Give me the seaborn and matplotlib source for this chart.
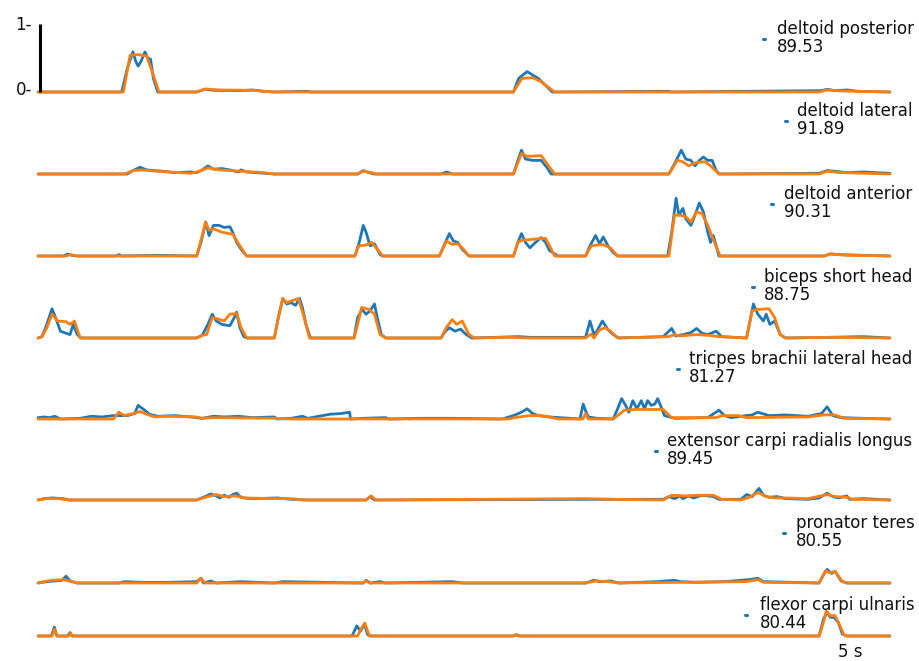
import matplotlib
matplotlib.use("Agg")
import matplotlib.pyplot as plt
from matplotlib.lines import Line2D
import pandas as pd
import seaborn as sns

sns.set_theme(style="white")
plt.rcParams["font.family"] = ["DejaVu Sans"]

BLUE = "#1f77b4"
ORANGE = "#ff7f0e"

muscles = [
    "deltoid posterior",
    "deltoid lateral",
    "deltoid anterior",
    "biceps short head",
    "tricpes brachii lateral head",
    "extensor carpi radialis longus",
    "pronator teres",
    "flexor carpi ulnaris",
]
scores = ["89.53", "91.89", "90.31", "88.75", "81.27", "89.45", "80.55", "80.44"]

# (time in s, normalised activation) vertices: recorded EMG envelope
deltoid_posterior_emg = [
    (0, 0), (2.09, 0), (2.23, 0.35), (2.37, 0.59), (2.44, 0.45), (2.50, 0.38), (2.57, 0.45),
    (2.67, 0.59), (2.74, 0.5), (2.81, 0.48), (2.88, 0.2), (2.99, 0.0), (3.96, 0.0), (4.17, 0.04),
    (4.38, 0.025), (5.07, 0.02), (5.35, 0.03), (5.63, 0.01), (5.9, 0.0), (6.74, 0.01), (6.8, 0.0),
    (11.87, 0.0), (12.0, 0.2), (12.21, 0.3), (12.35, 0.25), (12.49, 0.2), (12.7, 0.08), (12.84, 0.0),
    (15.75, 0.01), (15.8, 0.0), (19.56, 0.02), (19.7, 0.04), (19.9, 0.02), (20.2, 0.03),
    (20.47, 0.01), (21.27, 0.0),
]
deltoid_posterior_pred = [
    (0, 0), (2.13, 0), (2.30, 0.54), (2.50, 0.55), (2.71, 0.53), (2.85, 0.3), (3.02, 0.0),
    (3.96, 0.0), (4.17, 0.045), (4.52, 0.03), (5.35, 0.025), (5.9, 0.0), (11.87, 0.0),
    (12.08, 0.2), (12.35, 0.21), (12.56, 0.15), (12.9, 0.0), (19.5, 0.0), (19.7, 0.03),
    (20.05, 0.015), (21.27, 0.0),
]

deltoid_lateral_emg = [
    (0, 0), (2.23, 0), (2.37, 0.05), (2.55, 0.1), (2.71, 0.06), (3.13, 0.04), (3.41, 0.02),
    (3.82, 0.03), (3.96, 0.02), (4.1, 0.06), (4.24, 0.12), (4.38, 0.07), (4.59, 0.08), (4.79, 0.06),
    (5.0, 0.03), (5.07, 0.06), (5.21, 0.03), (5.9, 0.0), (7.98, 0.0), (8.12, 0.05), (8.26, 0.02),
    (8.4, 0.0), (10.06, 0.0), (10.2, 0.03), (10.34, 0.0), (11.87, 0.0), (11.98, 0.2), (12.07, 0.35),
    (12.17, 0.22), (12.35, 0.2), (12.56, 0.2), (12.7, 0.1), (12.81, 0.0), (15.75, 0.0),
    (15.89, 0.15), (16.06, 0.35), (16.17, 0.22), (16.3, 0.2), (16.4, 0.12), (16.51, 0.2),
    (16.61, 0.25), (16.72, 0.2), (16.83, 0.2), (16.93, 0.05), (17.0, 0.0), (19.5, 0.01),
    (19.7, 0.05), (19.9, 0.04), (20.2, 0.02), (20.6, 0.03), (21.27, 0.01),
]
deltoid_lateral_pred = [
    (0, 0), (2.16, 0), (2.37, 0.05), (2.57, 0.06), (2.99, 0.04), (3.82, 0.01), (4.03, 0.04),
    (4.24, 0.09), (4.52, 0.06), (5.07, 0.04), (5.63, 0.02), (5.9, 0.0), (7.98, 0.0), (8.12, 0.04),
    (8.33, 0.02), (8.47, 0.0), (11.87, 0.0), (12.07, 0.3), (12.21, 0.26), (12.56, 0.27),
    (12.77, 0.1), (12.9, 0.0), (15.75, 0.0), (15.96, 0.2), (16.1, 0.18), (16.24, 0.12),
    (16.44, 0.17), (16.65, 0.18), (16.79, 0.12), (17.0, 0.0), (19.5, 0.0), (19.7, 0.04),
    (20.05, 0.02), (21.27, 0.0),
]

deltoid_anterior_emg = [
    (0, 0), (0.63, 0), (0.74, 0.03), (0.84, 0.01), (0.98, 0), (1.95, 0), (2.02, 0.02), (2.09, 0),
    (2.99, 0.01), (3.96, 0), (4.07, 0.2), (4.19, 0.5), (4.27, 0.3), (4.38, 0.45), (4.52, 0.45),
    (4.65, 0.42), (4.79, 0.43), (4.86, 0.35), (4.96, 0.2), (5.07, 0.1), (5.21, 0.0), (7.91, 0),
    (8.02, 0.2), (8.12, 0.45), (8.19, 0.35), (8.29, 0.15), (8.4, 0.18), (8.54, 0.02), (8.61, 0),
    (10.02, 0), (10.17, 0.2), (10.27, 0.33), (10.37, 0.22), (10.48, 0.2), (10.59, 0.1),
    (10.76, 0.0), (11.87, 0), (11.98, 0.2), (12.07, 0.33), (12.17, 0.2), (12.28, 0.12),
    (12.42, 0.2), (12.56, 0.27), (12.67, 0.2), (12.77, 0.08), (12.9, 0.03), (12.98, 0.0),
    (13.67, 0), (13.78, 0.15), (13.92, 0.3), (14.02, 0.18), (14.11, 0.28), (14.23, 0.15),
    (14.36, 0.05), (14.47, 0), (15.72, 0), (15.82, 0.35), (15.93, 0.85), (16.0, 0.6), (16.1, 0.7),
    (16.17, 0.55), (16.3, 0.45), (16.37, 0.55), (16.51, 0.78), (16.61, 0.65), (16.72, 0.35),
    (16.79, 0.2), (16.86, 0.3), (17.0, 0.0), (19.63, 0), (19.77, 0.03), (20.05, 0.02),
    (20.6, 0.01), (21.27, 0),
]
deltoid_anterior_pred = [
    (0, 0), (0.7, 0), (0.8, 0.02), (0.98, 0), (3.96, 0), (4.1, 0.3), (4.18, 0.5), (4.27, 0.38),
    (4.38, 0.4), (4.59, 0.35), (4.86, 0.32), (5.04, 0.15), (5.21, 0.0), (7.91, 0), (8.01, 0.15),
    (8.19, 0.16), (8.33, 0.2), (8.47, 0.1), (8.61, 0), (10.02, 0), (10.2, 0.22), (10.34, 0.17),
    (10.48, 0.18), (10.62, 0.1), (10.76, 0), (11.87, 0), (11.98, 0.2), (12.07, 0.23),
    (12.42, 0.25), (12.67, 0.26), (12.77, 0.15), (12.9, 0), (13.67, 0), (13.81, 0.15),
    (14.09, 0.17), (14.29, 0.12), (14.47, 0), (15.75, 0), (15.89, 0.6), (16.03, 0.6),
    (16.17, 0.58), (16.3, 0.5), (16.44, 0.65), (16.58, 0.62), (16.72, 0.45), (16.89, 0.2),
    (17.03, 0), (19.63, 0), (19.77, 0.03), (20.19, 0.01), (21.27, 0),
]

biceps_emg = [
    (0.0, 0.0), (0.1, 0.02), (0.22, 0.2), (0.35, 0.43), (0.47, 0.25), (0.56, 0.1), (0.7, 0.07),
    (0.8, 0.05), (0.88, 0.2), (0.98, 0.05), (1.08, 0.0), (3.96, 0), (4.1, 0.04), (4.24, 0.2),
    (4.35, 0.35), (4.45, 0.25), (4.59, 0.2), (4.79, 0.18), (4.9, 0.3), (4.96, 0.38), (5.04, 0.15),
    (5.14, 0.02), (5.21, 0), (5.9, 0), (6.0, 0.3), (6.11, 0.58), (6.21, 0.5), (6.32, 0.52),
    (6.43, 0.48), (6.53, 0.58), (6.6, 0.45), (6.69, 0.2), (6.8, 0.0), (7.89, 0), (7.98, 0.3),
    (8.09, 0.42), (8.19, 0.35), (8.29, 0.4), (8.4, 0.5), (8.47, 0.3), (8.57, 0.05), (8.68, 0),
    (10.06, 0), (10.17, 0.1), (10.27, 0.15), (10.41, 0.1), (10.55, 0.13), (10.69, 0.05),
    (10.83, 0), (12.0, 0.02), (12.28, 0.01), (13.67, 0.01), (13.78, 0.25), (13.88, 0.05),
    (13.95, 0.1), (14.09, 0.25), (14.23, 0.12), (14.36, 0.05), (14.5, 0), (15.61, 0.02),
    (15.82, 0.14), (15.92, 0.03), (16.1, 0.05), (16.3, 0.08), (16.44, 0.14), (16.58, 0.07),
    (16.72, 0.05), (16.93, 0.1), (17.07, 0.02), (17.69, 0), (17.79, 0.3), (17.86, 0.5),
    (17.97, 0.35), (18.11, 0.25), (18.18, 0.35), (18.27, 0.2), (18.39, 0.25), (18.53, 0.05),
    (18.66, 0.0), (19.77, 0.01), (20.6, 0.02), (21.27, 0),
]
biceps_pred = [
    (0.0, 0.0), (0.1, 0.02), (0.22, 0.15), (0.35, 0.35), (0.49, 0.25), (0.7, 0.24), (0.8, 0.2),
    (0.91, 0.25), (1.05, 0.0), (3.96, 0), (4.1, 0.04), (4.21, 0.05), (4.35, 0.3), (4.49, 0.28),
    (4.65, 0.25), (4.79, 0.35), (4.96, 0.36), (5.07, 0.15), (5.21, 0.0), (5.9, 0), (6.0, 0.3),
    (6.11, 0.58), (6.21, 0.52), (6.35, 0.55), (6.5, 0.58), (6.62, 0.35), (6.78, 0.0), (7.89, 0),
    (7.98, 0.2), (8.08, 0.45), (8.26, 0.42), (8.4, 0.35), (8.54, 0.05), (8.68, 0), (10.06, 0),
    (10.2, 0.16), (10.34, 0.27), (10.45, 0.2), (10.59, 0.25), (10.76, 0.05), (10.9, 0.0),
    (11.73, 0.01), (12.28, 0.0), (13.67, 0), (13.81, 0.06), (13.88, 0.0), (14.02, 0.12),
    (14.16, 0.15), (14.29, 0.1), (14.47, 0), (15.75, 0.02), (15.89, 0.05), (16.03, 0.03),
    (16.44, 0.05), (16.72, 0.04), (17.0, 0.02), (17.69, 0), (17.83, 0.4), (17.97, 0.42),
    (18.25, 0.43), (18.39, 0.3), (18.53, 0.05), (18.66, 0.0), (19.77, 0.01), (21.27, 0),
]

triceps_emg = [
    (0.0, 0.02), (0.15, 0.03), (0.29, 0.02), (0.42, 0.04), (0.56, 0.0), (1.05, 0.01), (1.33, 0.04),
    (1.6, 0.03), (1.88, 0.05), (2.02, 0.05), (2.23, 0.05), (2.41, 0.08), (2.5, 0.2), (2.64, 0.14),
    (2.78, 0.07), (2.99, 0.04), (3.41, 0.05), (3.82, 0.03), (4.1, 0.01), (4.38, 0.04),
    (4.65, 0.03), (5.0, 0.04), (5.35, 0.02), (5.9, 0.03), (5.97, 0.0), (6.32, 0.01), (6.6, 0.04),
    (6.74, 0.01), (7.01, 0.04), (7.29, 0.07), (7.57, 0.08), (7.78, 0.1), (7.8, 0.0), (8.12, 0.01),
    (8.68, 0.02), (8.75, 0.0), (9.51, 0.01), (10.34, 0.01), (11.59, 0.0), (11.87, 0.05),
    (12.07, 0.1), (12.21, 0.15), (12.35, 0.08), (12.49, 0.05), (12.77, 0.03), (13.53, 0.0),
    (13.61, 0.22), (13.67, 0.12), (13.74, 0.03), (13.95, 0.01), (14.36, 0.0), (14.47, 0.15),
    (14.57, 0.3), (14.67, 0.2), (14.75, 0.1), (14.85, 0.27), (14.95, 0.15), (15.06, 0.27),
    (15.14, 0.15), (15.22, 0.27), (15.31, 0.2), (15.4, 0.22), (15.47, 0.3), (15.54, 0.2),
    (15.64, 0.05), (15.89, 0.01), (16.72, 0.02), (17.0, 0.13), (17.14, 0.05), (17.3, 0.02),
    (17.55, 0.04), (17.83, 0.06), (17.97, 0.1), (18.25, 0.05), (18.66, 0.06), (19.22, 0.04),
    (19.56, 0.08), (19.7, 0.18), (19.84, 0.05), (20.05, 0.02), (20.6, 0.01), (21.27, 0),
]
triceps_pred = [
    (0.0, 0.0), (1.88, 0.0), (2.02, 0.1), (2.16, 0.05), (2.37, 0.08), (2.55, 0.11), (2.71, 0.07),
    (2.92, 0.03), (3.13, 0.04), (3.96, 0.03), (4.1, 0.01), (4.38, 0.02), (5.9, 0.01), (6.32, 0.0),
    (11.73, 0.0), (12.0, 0.03), (12.28, 0.05), (12.56, 0.05), (12.77, 0.03), (12.98, 0.0),
    (13.6, 0.0), (13.67, 0.08), (13.74, 0.0), (14.36, 0.0), (14.64, 0.13), (14.92, 0.14),
    (15.61, 0.14), (15.82, 0.02), (16.93, 0.02), (17.07, 0.05), (17.48, 0.05), (17.69, 0.02),
    (19.22, 0.03), (19.63, 0.06), (19.9, 0.06), (20.12, 0.01), (21.27, 0),
]

extensor_emg = [
    (0.0, 0.0), (0.15, 0.02), (0.35, 0.03), (0.63, 0.02), (0.77, 0.0), (3.96, 0.0), (4.17, 0.05),
    (4.31, 0.09), (4.45, 0.06), (4.54, 0.03), (4.65, 0.07), (4.77, 0.04), (4.86, 0.08),
    (4.96, 0.1), (5.04, 0.05), (5.14, 0.03), (5.35, 0.02), (5.97, 0.03), (6.32, 0.01),
    (6.74, 0.0), (8.19, 0.0), (8.29, 0.05), (8.4, 0.0), (13.67, 0.01), (15.61, 0.01),
    (15.75, 0.05), (15.89, 0.02), (16.03, 0.06), (16.1, 0.02), (16.24, 0.06), (16.37, 0.03),
    (16.58, 0.07), (16.86, 0.05), (17.0, 0.01), (17.55, 0.01), (17.69, 0.08), (17.83, 0.05),
    (18.0, 0.17), (18.11, 0.07), (18.25, 0.04), (18.46, 0.05), (18.66, 0.02), (19.22, 0.01),
    (19.5, 0.03), (19.7, 0.1), (19.84, 0.05), (19.98, 0.03), (20.19, 0.06), (20.26, 0.01),
    (20.6, 0.02), (21.27, 0),
]
extensor_pred = [
    (0.0, 0.0), (0.22, 0.02), (0.49, 0.02), (0.77, 0.0), (3.96, 0.0), (4.24, 0.05), (4.45, 0.08),
    (4.65, 0.05), (4.93, 0.06), (5.14, 0.03), (5.9, 0.02), (6.32, 0.02), (6.6, 0.0), (8.19, 0),
    (8.32, 0.06), (8.43, 0), (13.67, 0.02), (14.36, 0.01), (15.61, 0.0), (15.82, 0.07),
    (16.17, 0.06), (16.44, 0.07), (16.86, 0.07), (17.07, 0.01), (17.55, 0.0), (17.76, 0.04),
    (17.97, 0.11), (18.18, 0.05), (18.39, 0.03), (18.66, 0.03), (19.22, 0.02), (19.7, 0.08),
    (19.9, 0.05), (20.19, 0.04), (20.33, 0.01), (21.27, 0),
]

pronator_emg = [
    (0.0, 0.0), (0.22, 0.02), (0.42, 0.03), (0.6, 0.04), (0.7, 0.1), (0.8, 0.03), (0.98, 0.0),
    (2.02, 0.0), (2.16, 0.02), (2.57, 0.01), (3.27, 0.01), (3.96, 0.02), (4.07, 0.07),
    (4.13, 0.0), (4.31, 0.03), (4.45, 0.0), (5.07, 0.02), (5.9, 0.0), (6.11, 0.02), (8.12, 0.0),
    (8.19, 0.04), (8.29, 0.0), (8.54, 0.02), (8.68, 0.0), (10.34, 0.02), (10.62, 0.0),
    (13.67, 0.0), (13.88, 0.04), (14.02, 0.02), (14.29, 0.03), (14.5, 0.0), (15.47, 0.02),
    (15.89, 0.04), (16.03, 0.02), (16.44, 0.01), (17.14, 0.02), (17.76, 0.05), (17.97, 0.07),
    (18.11, 0.02), (19.5, 0.0), (19.61, 0.12), (19.7, 0.2), (19.81, 0.14), (19.9, 0.17),
    (20.05, 0.03), (20.19, 0.0), (21.27, 0),
]
pronator_pred = [
    (0.0, 0.0), (0.15, 0.02), (0.35, 0.04), (0.63, 0.05), (0.77, 0.03), (0.98, 0.0), (3.96, 0.0),
    (4.07, 0.07), (4.17, 0.0), (8.12, 0.0), (8.19, 0.03), (8.29, 0.0), (13.67, 0.0), (13.95, 0.03),
    (14.23, 0.02), (14.5, 0.0), (17.69, 0.02), (17.97, 0.05), (18.11, 0.01), (19.5, 0.0),
    (19.66, 0.18), (19.77, 0.15), (19.9, 0.17), (20.08, 0.02), (20.19, 0.0), (21.27, 0),
]

flexor_emg = [
    (0.0, 0.0), (0.33, 0.0), (0.41, 0.13), (0.47, 0.0), (0.74, 0.0), (0.8, 0.05), (0.85, 0.0),
    (7.84, 0.0), (7.96, 0.15), (8.05, 0.07), (8.15, 0.17), (8.23, 0.02), (8.29, 0.0),
    (11.87, 0.0), (11.94, 0.02), (12.0, 0.0), (19.5, 0.0), (19.61, 0.25), (19.7, 0.35),
    (19.77, 0.28), (19.88, 0.27), (19.98, 0.2), (20.08, 0.03), (20.19, 0.0), (21.27, 0),
]
flexor_pred = [
    (0.0, 0.0), (0.35, 0.0), (0.41, 0.1), (0.47, 0.0), (0.77, 0.0), (0.81, 0.04), (0.87, 0.0),
    (7.98, 0.0), (8.08, 0.12), (8.16, 0.19), (8.26, 0.02), (8.33, 0.0), (11.87, 0.0),
    (11.95, 0.02), (12.03, 0.0), (19.5, 0), (19.61, 0.2), (19.68, 0.37), (19.77, 0.3),
    (19.9, 0.3), (20.02, 0.15), (20.12, 0.02), (20.19, 0.0), (21.27, 0),
]

emg_series = [deltoid_posterior_emg, deltoid_lateral_emg, deltoid_anterior_emg, biceps_emg,
              triceps_emg, extensor_emg, pronator_emg, flexor_emg]
pred_series = [deltoid_posterior_pred, deltoid_lateral_pred, deltoid_anterior_pred, biceps_pred,
               triceps_pred, extensor_pred, pronator_pred, flexor_pred]

# figure layout in pixels
W, H = 919, 661
fig = plt.figure(figsize=(W / 100, H / 100), dpi=100)
baselines = [92, 174, 256, 338, 419, 500, 583, 636]
label_dot = [(764, 39), (786, 121), (772, 204), (753, 287), (678, 369), (656, 451), (784, 533), (746, 615)]
label_x = [777, 797, 784, 764, 689, 667, 796, 760]
x_left, x_right = 38, 890
unit_px = 68
t_end = 21.27


def fx(px):
    return px / W


def fy(py):
    return 1 - py / H


for i, name in enumerate(muscles):
    b = baselines[i]
    ax = fig.add_axes([fx(x_left), fy(b), (x_right - x_left) / W, unit_px / H])
    df_e = pd.DataFrame(emg_series[i], columns=["t", "v"])
    df_p = pd.DataFrame(pred_series[i], columns=["t", "v"])
    sns.lineplot(data=df_e, x="t", y="v", ax=ax, color=BLUE, lw=2.0, estimator=None,
                 sort=False, clip_on=False)
    sns.lineplot(data=df_p, x="t", y="v", ax=ax, color=ORANGE, lw=2.0, estimator=None,
                 sort=False, clip_on=False)
    ax.set_xlim(0, t_end)
    ax.set_ylim(0, 1)
    ax.set_xlabel("")
    ax.set_ylabel("")
    ax.set_xticks([])
    ax.set_yticks([])
    ax.patch.set_alpha(0)
    for s in ax.spines.values():
        s.set_visible(False)

    # legend-like label: small marker plus name and score
    dx, dy = label_dot[i]
    fig.add_artist(Line2D([fx(dx - 1), fx(dx + 1)], [fy(dy), fy(dy)], color=BLUE, lw=2.2,
                          transform=fig.transFigure))
    fig.text(fx(label_x[i]), fy(dy - 10), name, fontsize=12, color="#111111",
             ha="left", va="center")
    fig.text(fx(label_x[i]), fy(dy + 8), scores[i], fontsize=12, color="#111111",
             ha="left", va="center")

    if i == 0:
        # vertical scale bar from 0 to 1
        ax.plot([0.05, 0.05], [0, 1], color="black", lw=2.2, clip_on=False,
                solid_capstyle="butt")

fig.text(fx(32), fy(25), "1-", fontsize=12, ha="right", va="center", color="#111111")
fig.text(fx(32), fy(90), "0-", fontsize=12, ha="right", va="center", color="#111111")
fig.text(fx(850), fy(652), "5 s", fontsize=12, ha="center", va="center", color="#111111")

fig.savefig("out.png", dpi=100)
